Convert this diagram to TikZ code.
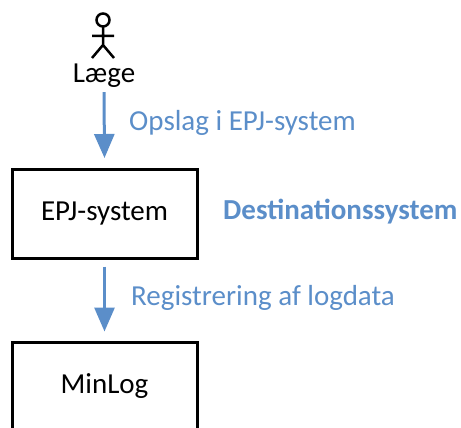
\documentclass[tikz,border=0pt]{standalone}
\usepackage{fontspec}
\setmainfont{Carlito}
\usetikzlibrary{arrows.meta, positioning}
\definecolor{logblue}{RGB}{91,142,201}

\begin{document}
\begin{tikzpicture}[x=1pt,y=-1pt,
  box/.style={draw,line width=3pt,minimum width=185pt,minimum height=89pt,font=\fontsize{29}{34}\selectfont},
  flow/.style={color=logblue,line width=3pt,-{Triangle[width=20pt,length=24pt]}},
  flowlabel/.style={color=logblue,anchor=base west,inner sep=0pt,font=\fontsize{29}{34}\selectfont}]
\useasboundingbox (0,0) rectangle (461,428);
\clip (0,0) rectangle (461,428);
% actor
\draw[line width=2.5pt] (103,20) circle (6.5);
\draw[line width=2.5pt] (103,27) -- (103,45) (92,36) -- (114,36) (92,58) -- (103,45) -- (114,58);
\node[anchor=base,inner sep=0pt,font=\fontsize{29}{34}\selectfont] at (104,83) (laege) {Læge};
% systems
\node[box] at (104.5,213.5) (epj) {EPJ-system};
\node[box] at (104.5,386.5) (minlog) {MinLog};
\node[flowlabel,font=\bfseries\fontsize{29}{34}\selectfont] at (223,219) (dest) {Destinationssystem};
% flows
\draw[flow] (laege.south) ++(0,4) coordinate (a0) -- (epj.north |- 0,158);
\draw[flow,shorten >=9pt,shorten <=7pt] (epj) -- (minlog);
\node[flowlabel] at (129,130) (opslag) {Opslag i EPJ-system};
\node[flowlabel] at (131,305) (reg) {Registrering af logdata};
\end{tikzpicture}
\end{document}
